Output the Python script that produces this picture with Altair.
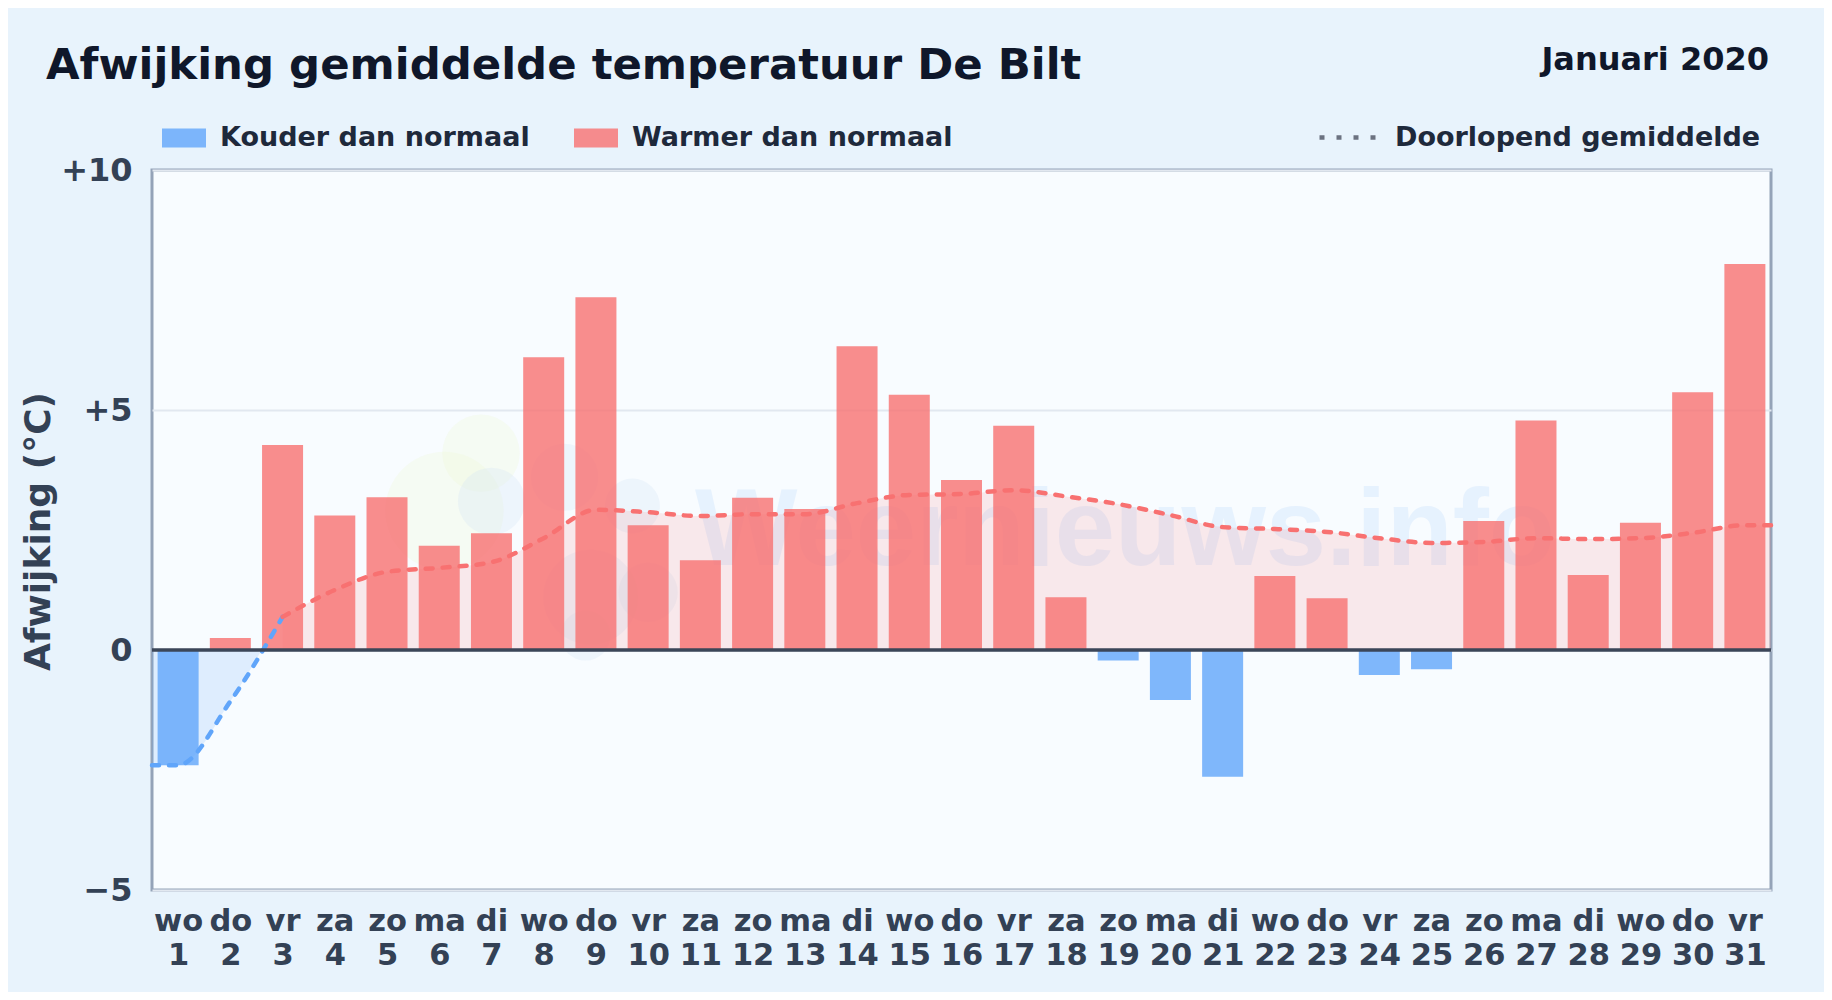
import altair as alt
import pandas as pd

weekdays = ["wo","do","vr","za","zo","ma","di","wo","do","vr","za","zo","ma","di","wo","do",
            "vr","za","zo","ma","di","wo","do","vr","za","zo","ma","di","wo","do","vr"]
days = list(range(1, 32))
deviation = [-2.4,0.25,4.27,2.8,3.18,2.17,2.43,6.1,7.35,2.6,1.87,3.17,2.94,6.33,5.32,3.54,4.67,1.1,
             -0.22,-1.04,-2.64,1.54,1.08,-0.52,-0.4,2.69,4.78,1.56,2.65,5.37,8.04]

cold_line_x = [0.5, 1, 2, 3]
cold_line_y = [-2.4, -2.4, -1.07, 0.69]
cold_area_x = [0.5, 1, 2, 2.6]
cold_area_y = [-2.4, -2.4, -1.07, 0]
warm_line_x = list(range(3, 32)) + [31.5]
warm_line_y = [0.69,1.25,1.63,1.71,1.83,2.33,2.92,2.87,2.79,2.83,2.83,3.06,3.23,3.25,3.33,3.2,
               3.04,2.81,2.56,2.52,2.46,2.33,2.23,2.25,2.33,2.31,2.33,2.44,2.6,2.6]

wm_x = [6.8, 6.1, 7.0, 8.4, 9.7, 8.9, 8.8, 10.0]
wm_y = [4.1, 2.9, 3.1, 3.6, 3.0, 1.1, 0.3, 1.2]
wm_size = [6000, 14000, 4500, 4500, 3000, 9000, 2500, 3500]
wm_group = ["g", "g", "b", "b", "b", "b", "b", "b"]

COLD = "Kouder dan normaal"
WARM = "Warmer dan normaal"
MEAN = "Doorlopend gemiddelde"
FONT = "DejaVu Sans"
RED = "#f87171"
BLUE = "#60a5fa"
INK = "#334155"

bars = pd.DataFrame({"day": days, "dev": deviation,
                     "kind": [COLD if v < 0 else WARM for v in deviation], "zero": 0})
cold_line = pd.DataFrame({"day": cold_line_x, "v": cold_line_y})
warm_line = pd.DataFrame({"day": warm_line_x, "v": warm_line_y, "series": MEAN})
cold_area = pd.DataFrame({"day": cold_area_x, "v": cold_area_y, "zero": 0})
wm = pd.DataFrame({"day": wm_x, "v": wm_y, "s": wm_size, "g": wm_group})

x_scale = alt.Scale(domain=[0.5, 31.5], nice=False, zero=False, padding=0)
y_scale = alt.Scale(domain=[-5, 10], nice=False, padding=0)
label_expr = "[" + ",".join(f"'{w}'" for w in weekdays) + "][datum.value-1]"

x_axis = alt.Axis(values=days, title=None, grid=False, domain=False, ticks=False, labelAngle=0,
                  labelFont=FONT, labelFontWeight="bold", labelFontSize=30.5, labelColor=INK,
                  labelPadding=16, labelLineHeight=34, labelOverlap=False, labelFlush=False,
                  labelExpr="[" + label_expr + ", '' + datum.value]")
y_axis = alt.Axis(values=[-5, 0, 5, 10], title="Afwijking (°C)", grid=True, gridColor="#e2e8f0",
                  gridWidth=2, domain=False, ticks=False, labelFont=FONT, labelFontWeight="bold",
                  labelFontSize=32, labelColor=INK, labelPadding=20,
                  labelExpr="datum.value > 0 ? '+' + datum.value : datum.value < 0 ? '\u2212' + abs(datum.value) : '0'",
                  titleFont=FONT, titleFontWeight="bold", titleFontSize=36, titleColor=INK,
                  titleX=-95, titleY=361)

X = alt.X("day:Q", scale=x_scale, axis=x_axis)
Y = alt.Y("v:Q", scale=y_scale, axis=y_axis)

marks = alt.Chart(wm).mark_circle(opacity=0.3).encode(
    x=X, y=Y,
    size=alt.Size("s:Q", scale=None, legend=None),
    color=alt.Color("g:N", scale=alt.Scale(domain=["g", "b"], range=["#eef7d8", "#d3e5f5"]), legend=None),
)
wm_text = alt.Chart(pd.DataFrame({"t": ["Weernieuws.info"]})).mark_text(
    font="Liberation Sans", fontWeight="bold", fontSize=108.5, align="left", baseline="alphabetic",
    color=BLUE, opacity=0.11
).encode(text="t:N", x=alt.value(543), y=alt.value(395))

area_warm = alt.Chart(warm_line).mark_area(color=RED, opacity=0.14, interpolate="monotone").encode(
    x=X, y=Y, y2=alt.datum(0))
area_cold = alt.Chart(cold_area).mark_area(color=BLUE, opacity=0.17, interpolate="monotone").encode(
    x=X, y=Y, y2="zero:Q")

bar = alt.Chart(bars).mark_bar(size=41, opacity=0.8, orient="vertical").encode(
    x=X,
    y=alt.Y("dev:Q", scale=y_scale, axis=y_axis),
    y2="zero:Q",
    color=alt.Color("kind:N", scale=alt.Scale(domain=[COLD, WARM], range=[BLUE, RED]),
                    legend=alt.Legend(orient="none", legendX=10, legendY=-54, direction="horizontal",
                                      title=None, columns=2, symbolType="M-1,-0.43H1V0.43H-1Z",
                                      symbolSize=1936, symbolStrokeWidth=0, symbolOpacity=0.8, labelOffset=14, columnPadding=44,
                                      labelFont=FONT, labelFontWeight="bold", labelFontSize=27,
                                      labelColor="#1e293b", labelLimit=500)),
)

legend_line = alt.Chart(warm_line).mark_line(opacity=0, color="#6b7280").encode(
    x=X, y=Y,
    strokeDash=alt.StrokeDash("series:N", scale=alt.Scale(domain=[MEAN], range=[[5, 12]]),
                              legend=alt.Legend(orient="none", legendX=1165, legendY=-63, title=None,
                                                symbolType="stroke", symbolSize=3136, symbolStrokeWidth=4.5,
                                                symbolStrokeColor="#6b7280", symbolOpacity=1,
                                                labelOffset=17, labelFont=FONT, labelFontWeight="bold",
                                                labelFontSize=27, labelColor="#1e293b", labelLimit=500)))
line_cold = alt.Chart(cold_line).mark_line(color=BLUE, strokeWidth=4.5, strokeCap="round", strokeDash=[7, 10],
                                           interpolate="monotone").encode(x=X, y=Y)
line_warm = alt.Chart(warm_line).mark_line(color=RED, strokeWidth=4.5, strokeCap="round", strokeDash=[7, 10],
                                           interpolate="monotone").encode(x=X, y=Y)

zero_rule = alt.Chart(pd.DataFrame({"v": [0]})).mark_rule(color="#3b4658", strokeWidth=3.5).encode(y=Y)

month = alt.Chart(pd.DataFrame({"t": ["Januari 2020"]})).mark_text(
    font=FONT, fontWeight="bold", fontSize=32, align="right", baseline="alphabetic", color="#0f172a"
).encode(text="t:N", x=alt.value(1617), y=alt.value(-100))
headline = alt.Chart(pd.DataFrame({"t": ["Afwijking gemiddelde temperatuur De Bilt"]})).mark_text(
    font=FONT, fontWeight="bold", fontSize=43.4, align="left", baseline="alphabetic", color="#0f172a"
).encode(text="t:N", x=alt.value(-106), y=alt.value(-91))

chart = alt.layer(marks, wm_text, area_warm, area_cold, bar, legend_line, line_cold, line_warm, zero_rule,
                  month, headline).properties(
    width=1619, height=720,
    padding={"left": 144, "top": 162, "right": 53, "bottom": 102},
    autosize=alt.AutoSizeParams(type="none"),
    background="#e8f3fc",
).resolve_scale(color="independent").configure_view(stroke="#94a3b8", strokeWidth=3, fill="#f8fcff")

chart.save("out.html", embed_options={"renderer": "svg", "actions": False})
